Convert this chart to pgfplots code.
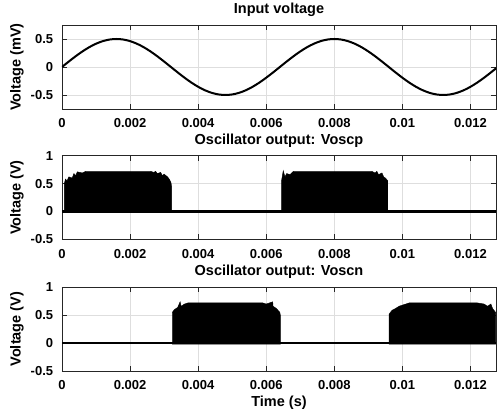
\documentclass[border=0pt]{standalone}
\usepackage{fontspec}
\setmainfont{Liberation Sans}
\usepackage{pgfplots}
\pgfplotsset{compat=1.18}
\usepackage{pgfplotstable}
\pgfplotstableread{
t v
0.0000 0
0.0002 0.0975
0.0004 0.1913
0.0006 0.2778
0.0008 0.3536
0.0010 0.4157
0.0012 0.4619
0.0014 0.4904
0.0016 0.5
0.0018 0.4904
0.0020 0.4619
0.0022 0.4157
0.0024 0.3536
0.0026 0.2778
0.0028 0.1913
0.0030 0.0975
0.0032 0
0.0034 -0.0975
0.0036 -0.1913
0.0038 -0.2778
0.0040 -0.3536
0.0042 -0.4157
0.0044 -0.4619
0.0046 -0.4904
0.0048 -0.5
0.0050 -0.4904
0.0052 -0.4619
0.0054 -0.4157
0.0056 -0.3536
0.0058 -0.2778
0.0060 -0.1913
0.0062 -0.0975
0.0064 0
0.0066 0.0975
0.0068 0.1913
0.0070 0.2778
0.0072 0.3536
0.0074 0.4157
0.0076 0.4619
0.0078 0.4904
0.0080 0.5
0.0082 0.4904
0.0084 0.4619
0.0086 0.4157
0.0088 0.3536
0.0090 0.2778
0.0092 0.1913
0.0094 0.0975
0.0096 0
0.0098 -0.0975
0.0100 -0.1913
0.0102 -0.2778
0.0104 -0.3536
0.0106 -0.4157
0.0108 -0.4619
0.0110 -0.4904
0.0112 -0.5
0.0114 -0.4904
0.0116 -0.4619
0.0118 -0.4157
0.0120 -0.3536
0.0122 -0.2778
0.0124 -0.1913
0.0126 -0.0975
0.0128 0
}\sinetable
\definecolor{axcol}{gray}{0.15}
\definecolor{gridcol}{gray}{0.87}
\pgfplotsset{
  myax/.style={
    scale only axis, width=434pt,
    xmin=0, xmax=0.01275,
    scaled ticks=false,
    xtick={0,0.002,0.004,0.006,0.008,0.01,0.012},
    xticklabels={0,0.002,0.004,0.006,0.008,0.01,0.012},
    tick align=inside, major tick length=5pt,
    grid=major, grid style={gridcol, line width=0.5pt},
    axis line style={axcol, line width=0.7pt},
    tick style={axcol, line width=0.7pt},
    ticklabel style={font=\fontsize{13}{13}\selectfont\bfseries, text=black},
    xticklabel style={anchor=base, yshift=-19pt, inner sep=0pt},
    yticklabel style={anchor=east, xshift=-8.7pt, inner sep=0pt},
    title style={font=\fontsize{14.5}{14.5}\selectfont\bfseries, at={(axis description cs:0.5,1)}, anchor=base, yshift=5.5pt, inner sep=0pt},
    ylabel style={font=\fontsize{14.5}{14.5}\selectfont\bfseries, at={(axis description cs:-0.104,0.5)}, anchor=center, inner sep=0pt},
    xlabel style={font=\fontsize{14.5}{14.5}\selectfont\bfseries, at={(axis description cs:0.5,0)}, anchor=base, yshift=-35.5pt, inner sep=0pt},
  },
  oscax/.style={myax, height=83.6pt, ymin=-0.5, ymax=1, ytick={-0.5,0,0.5,1}, yticklabels={-0.5,0,0.5,1}, ylabel={Voltage (V)}},
  burst/.style={fill=black, draw=black, line width=0.4pt},
}
\begin{document}
\begin{tikzpicture}
\useasboundingbox (0,0) rectangle (504pt,414pt);
% Input voltage
\begin{axis}[myax, at={(62pt,305pt)}, anchor=south west, height=84pt,
  ymin=-0.75, ymax=0.75, ytick={-0.5,0,0.5}, yticklabels={-0.5,0,0.5},
  title={Input voltage}, ylabel={Voltage (mV)}]
\addplot[black, line width=2pt, smooth] table[x=t, y=v] {\sinetable};
\end{axis}
% Voscp
\begin{axis}[oscax, at={(62pt,174.7pt)}, anchor=south west,
  title={Oscillator output: Voscp}]
\addplot[black, line width=2.2pt] coordinates {(0,0) (0.01275,0)};
\addplot[burst] coordinates {
(0.00007,-0.02) (0.00007,0.50) (0.0001,0.58) (0.00015,0.55) (0.0002,0.62) (0.0003,0.60)
(0.00035,0.68) (0.0004,0.64) (0.00045,0.71) (0.0006,0.69) (0.0007,0.72) (0.0026,0.72)
(0.0027,0.70) (0.00275,0.72) (0.0028,0.68) (0.0029,0.70) (0.00295,0.64) (0.003,0.67)
(0.0031,0.62) (0.00315,0.58) (0.0032,0.52) (0.00322,0.45) (0.00322,-0.02)} -- cycle;
\addplot[burst] coordinates {
(0.00645,-0.02) (0.00645,0.55) (0.0065,0.73) (0.00655,0.62) (0.0066,0.68) (0.0067,0.66)
(0.0068,0.72) (0.0091,0.72) (0.0092,0.69) (0.00925,0.72) (0.0093,0.66) (0.0094,0.69)
(0.00945,0.62) (0.0095,0.60) (0.00957,0.55) (0.00957,-0.02)} -- cycle;
\end{axis}
% Voscn
\begin{axis}[oscax, at={(62pt,43pt)}, anchor=south west, height=83.7pt,
  title={Oscillator output: Voscn}, xlabel={Time (s)}]
\addplot[black, line width=2.2pt] coordinates {(0,0) (0.01275,0)};
\addplot[burst] coordinates {
(0.00324,-0.02) (0.00324,0.55) (0.0033,0.60) (0.0034,0.64) (0.00347,0.74) (0.0035,0.66)
(0.0036,0.70) (0.0037,0.72) (0.0059,0.72) (0.006,0.70) (0.00619,0.74) (0.0062,0.66)
(0.0063,0.62) (0.0064,0.55) (0.00642,0.48) (0.00642,-0.02)} -- cycle;
\addplot[burst] coordinates {
(0.00961,-0.02) (0.00961,0.52) (0.0097,0.59) (0.0098,0.62) (0.0099,0.66) (0.0100,0.68)
(0.0101,0.70) (0.0102,0.72) (0.0122,0.72) (0.0124,0.70) (0.0125,0.66) (0.0126,0.70)
(0.01265,0.62) (0.0127,0.58) (0.01274,0.55) (0.01274,-0.02)} -- cycle;
\end{axis}
\end{tikzpicture}
\end{document}
